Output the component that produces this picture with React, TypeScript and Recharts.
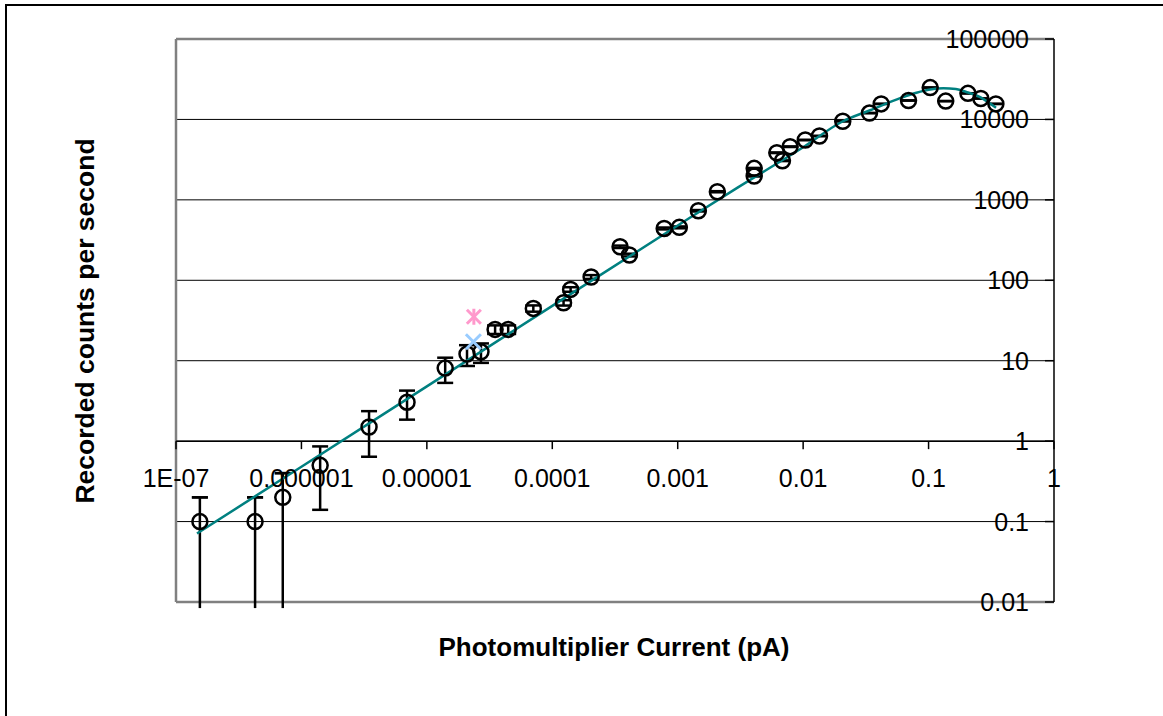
import React from 'react'
import {
  ComposedChart,
  Scatter,
  Line,
  XAxis,
  YAxis,
  CartesianGrid,
  ErrorBar,
  ReferenceLine,
} from 'recharts'

// photomultiplier current (pA), measured count rate and its error
const PM_CURRENT = [
  1.55e-7, 4.27e-7, 7.1e-7, 1.41e-6, 3.46e-6, 6.95e-6, 1.4e-5, 2.09e-5, 2.7e-5,
  3.5e-5, 4.45e-5, 7.06e-5, 1.23e-4, 1.4e-4, 2.04e-4, 3.47e-4, 4.12e-4, 7.8e-4,
  1.03e-3, 1.46e-3, 2.07e-3, 4.07e-3, 4.07e-3, 6.17e-3, 6.84e-3, 7.87e-3, 1.04e-2,
  1.35e-2, 2.07e-2, 3.38e-2, 4.19e-2, 6.92e-2, 0.103, 0.137, 0.206, 0.261, 0.344,
]
const COUNT_RATE = [
  0.1, 0.1, 0.2, 0.5, 1.5, 3.05, 8.1, 12.1, 12.9,
  24.5, 24.5, 44.7, 52.5, 77, 110, 261, 206, 441,
  455, 732, 1262, 2466, 1977, 3853, 3064, 4580, 5547,
  6220, 9500, 12000, 15600, 17200, 24900, 16900, 21100, 18200, 15600,
]
const COUNT_ERR = [
  0.1, 0.1, 0.2, 0.36, 0.86, 1.2, 2.8, 3.5, 3.5,
  3, 3, 4, 4, 5, 6, 9, 8, 12,
  12, 15, 20, 30, 25, 35, 30, 40, 40,
  45, 60, 60, 70, 70, 80, 70, 80, 70, 70,
]

// fitted curve
const FIT_CURRENT = [
  1.47e-7, 1e-6, 1e-5, 1e-4, 1e-3, 3e-3, 0.01, 0.0204, 0.0342, 0.0594, 0.08,
  0.103, 0.1315, 0.165, 0.202, 0.258, 0.3, 0.345,
]
const FIT_RATE = [
  0.071, 0.48, 4.8, 48, 480, 1420, 4500, 9360, 13000, 18400, 21500,
  23600, 24400, 23900, 21800, 18900, 16300, 14000,
]

const BLUE_X = [{ x: 2.35e-5, y: 17.2 }]
const PINK_STAR = [{ x: 2.37e-5, y: 35.2 }]

const X_TICKS = [1e-7, 1e-6, 1e-5, 1e-4, 1e-3, 1e-2, 1e-1, 1]
const X_TICK_LABELS = ['1E-07', '0.000001', '0.00001', '0.0001', '0.001', '0.01', '0.1', '1']
const Y_TICKS = [0.01, 0.1, 1, 10, 100, 1000, 10000, 100000]
const Y_TICK_LABELS = ['0.01', '0.1', '1', '10', '100', '1000', '10000', '100000']

const W = 1163
const H = 716
const PLOT_LEFT = 176
const PLOT_TOP = 39
const PLOT_RIGHT = 1054
const PLOT_BOTTOM = 602
const Y_MIN = 0.01
const Y_MAX = 100000
// excel cuts error bars that go to zero just under the axis
const FLOOR = 0.0084
const CROSS_Y =
  PLOT_TOP + ((PLOT_BOTTOM - PLOT_TOP) * Math.log10(Y_MAX / 1)) / Math.log10(Y_MAX / Y_MIN)

const FONT = '"Liberation Sans", Arial, sans-serif'

const allPoints = PM_CURRENT.map((x, i) => ({ x, y: COUNT_RATE[i], e: COUNT_ERR[i] }))
// normal points: symmetric bars with two caps
const points = allPoints
  .filter((p) => p.y - p.e > FLOOR)
  .map((p) => ({ x: p.x, y: p.y, err: p.e }))
// points whose bar runs off the bottom: line down to the floor, cap only on top
const lowPoints = allPoints
  .filter((p) => p.y - p.e <= FLOOR)
  .map((p) => ({ x: p.x, y: p.y, errLine: [p.y - FLOOR, p.e], errCap: [-p.e, p.e] }))
const curve = FIT_CURRENT.map((x, i) => ({ x, y: FIT_RATE[i] }))

function XTick(props: any) {
  const { x, payload } = props
  const label = X_TICK_LABELS[X_TICKS.indexOf(payload.value)]
  return (
    <g>
      <line x1={x} x2={x} y1={CROSS_Y} y2={CROSS_Y + 8} stroke="#000" strokeWidth={1.5} />
      <text x={x} y={CROSS_Y + 46} textAnchor="middle" fontSize={25} fontFamily={FONT} fill="#000">
        {label}
      </text>
    </g>
  )
}

function YTick(props: any) {
  const { y, payload } = props
  const label = Y_TICK_LABELS[Y_TICKS.indexOf(payload.value)]
  return (
    <g>
      <line x1={PLOT_RIGHT - 9} x2={PLOT_RIGHT} y1={y} y2={y} stroke="#000" strokeWidth={1.5} />
      <text x={PLOT_RIGHT - 25} y={y + 9} textAnchor="end" fontSize={25} fontFamily={FONT} fill="#000">
        {label}
      </text>
    </g>
  )
}

function XTitle() {
  return (
    <text x={614} y={656} textAnchor="middle" fontSize={26} fontWeight="bold" fontFamily={FONT} fill="#000">
      Photomultiplier Current (pA)
    </text>
  )
}

function YTitle() {
  return (
    <text
      x={94}
      y={321}
      textAnchor="middle"
      fontSize={26.5}
      fontWeight="bold"
      fontFamily={FONT}
      fill="#000"
      transform="rotate(-90, 94, 321)"
    >
      Recorded counts per second
    </text>
  )
}

const circle = (p: any) => (
  <circle cx={p.cx} cy={p.cy} r={7.5} fill="none" stroke="#000" strokeWidth={2.5} />
)

const cross = (p: any) => (
  <g stroke="#99ccff" strokeWidth={3}>
    <line x1={p.cx - 7.5} y1={p.cy - 7.5} x2={p.cx + 7.5} y2={p.cy + 7.5} />
    <line x1={p.cx - 7.5} y1={p.cy + 7.5} x2={p.cx + 7.5} y2={p.cy - 7.5} />
  </g>
)

const star = (p: any) => (
  <g stroke="#ff99cc" strokeWidth={3}>
    <line x1={p.cx - 7} y1={p.cy - 7} x2={p.cx + 7} y2={p.cy + 7} />
    <line x1={p.cx - 7} y1={p.cy + 7} x2={p.cx + 7} y2={p.cy - 7} />
    <line x1={p.cx} y1={p.cy - 8} x2={p.cx} y2={p.cy + 8} />
  </g>
)

export default function App() {
  return (
    <div style={{ position: 'absolute', left: 0, top: 0, width: W, height: H, overflow: 'hidden', background: '#fff' }}>
      <div
        style={{
          position: 'absolute',
          left: 5,
          top: 4,
          width: W,
          height: H,
          borderLeft: '2px solid #000',
          borderTop: '2px solid #000',
        }}
      />
      <ComposedChart
        width={W}
        height={H}
        margin={{ top: PLOT_TOP, left: PLOT_LEFT, right: W - PLOT_RIGHT - 60, bottom: H - PLOT_BOTTOM - 30 }}
        style={{ position: 'absolute', left: 0, top: 0 }}
      >
        <CartesianGrid horizontal vertical={false} stroke="#000" strokeWidth={1} />
        <XAxis
          dataKey="x"
          type="number"
          scale="log"
          domain={[1e-7, 1]}
          allowDataOverflow
          ticks={X_TICKS}
          interval={0}
          height={30}
          axisLine={false}
          tickLine={false}
          tick={<XTick />}
          label={<XTitle />}
        />
        <YAxis
          dataKey="y"
          type="number"
          scale="log"
          domain={[Y_MIN, Y_MAX]}
          allowDataOverflow
          orientation="right"
          ticks={Y_TICKS}
          interval={0}
          width={60}
          axisLine={{ stroke: '#000', strokeWidth: 1.5 }}
          tickLine={false}
          tick={<YTick />}
          label={<YTitle />}
        />
        <ReferenceLine x={1e-7} stroke="#808080" strokeWidth={2.5} />
        <ReferenceLine y={Y_MAX} stroke="#808080" strokeWidth={2.5} />
        <ReferenceLine y={Y_MIN} stroke="#808080" strokeWidth={2.5} />
        <ReferenceLine y={1} stroke="#000" strokeWidth={1.5} />
        <Scatter data={points} dataKey="y" shape={circle} isAnimationActive={false}>
          <ErrorBar dataKey="err" direction="y" width={8} stroke="#000" strokeWidth={2.5} />
        </Scatter>
        <Scatter data={lowPoints} dataKey="y" shape={circle} isAnimationActive={false}>
          <ErrorBar dataKey="errLine" direction="y" width={0} stroke="#000" strokeWidth={2.5} />
          <ErrorBar dataKey="errCap" direction="y" width={8} stroke="#000" strokeWidth={2.5} />
        </Scatter>
        <Scatter data={BLUE_X} dataKey="y" shape={cross} isAnimationActive={false} />
        <Scatter data={PINK_STAR} dataKey="y" shape={star} isAnimationActive={false} />
        <Line
          data={curve}
          dataKey="y"
          type="monotone"
          stroke="#008080"
          strokeWidth={2.5}
          dot={false}
          isAnimationActive={false}
        />
      </ComposedChart>
    </div>
  )
}
